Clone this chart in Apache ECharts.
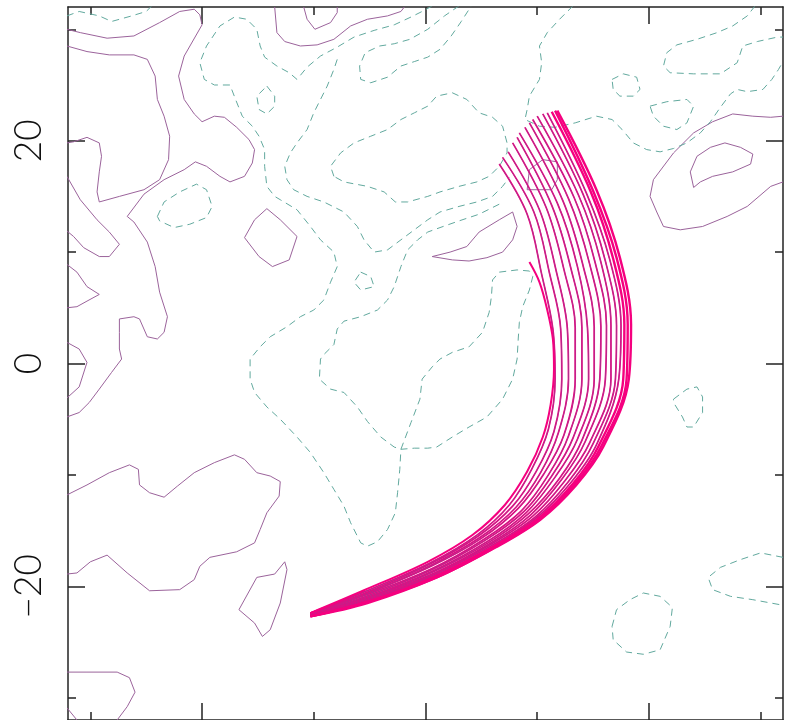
<!DOCTYPE html>
<html><head><meta charset="utf-8">
<script src="https://cdn.jsdelivr.net/npm/echarts@6/dist/echarts.min.js"></script>
<style>html,body{margin:0;padding:0;background:#fff}#c{width:793px;height:720px}</style>
</head><body><div id="c"></div><script>
// ---- axis range and ticks ----
const axisRange = [-32, 32];
const majorTicks = [-20, 0, 20];
const minorTicks = [-30, -10, 10, 30];
const yTickLabels = [-20, 0, 20];

// ---- solid (positive) contours ----
const solidA = [[-32.1,30.0],[-30.9,29.7],[-28.5,29.2],[-26.1,29.4],[-23.8,30.6],[-22.0,31.6],[-20.7,31.8],[-20.2,31.3],[-20.0,30.4],[-21.6,27.6],[-22.1,25.8],[-21.6,23.7],[-20.7,22.4],[-20.0,21.7],[-18.9,22.2],[-18.0,22.1],[-16.9,21.2],[-15.8,20.1],[-15.3,19.2],[-15.5,18.0],[-16.2,16.8],[-17.5,16.3],[-18.4,16.8],[-19.6,17.7],[-20.6,18.1],[-21.6,17.4],[-23.4,16.5],[-25.2,15.2],[-26.7,13.2],[-26.1,12.7],[-24.9,10.9],[-24.2,8.7],[-23.8,6.4],[-23.1,4.2],[-23.4,2.8],[-24.0,2.2],[-24.9,2.4],[-25.6,4.0],[-26.1,4.2],[-27.4,4.0],[-27.4,2.8],[-27.4,1.3],[-27.2,0.4],[-28.1,-0.8],[-29.2,-2.3],[-30.1,-3.5],[-31.0,-4.4],[-32.1,-4.8]];
const solidB = [[-32.1,28.5],[-30.3,28.0],[-28.3,27.7],[-26.1,27.7],[-24.9,27.3],[-24.2,25.8],[-24.0,23.7],[-23.4,22.2],[-22.9,20.4],[-23.0,18.3],[-23.8,16.5],[-25.2,15.6],[-27.4,15.0],[-29.2,14.5],[-29.4,15.4],[-29.2,17.2],[-29.0,18.6],[-29.2,19.8],[-30.3,20.3],[-31.5,19.9],[-32.1,19.8]];
const solidC = [[-32.1,16.8],[-30.9,14.7],[-29.4,12.9],[-28.3,11.8],[-27.4,10.7],[-28.3,9.6],[-29.2,9.6],[-30.6,10.4],[-31.5,11.4],[-32.1,11.9]];
const solidD = [[-32.1,8.9],[-31.2,8.2],[-30.3,6.9],[-29.2,6.2],[-30.3,5.6],[-31.2,5.1],[-32.1,5.0]];
const solidE = [[-32.1,1.9],[-31.0,1.3],[-30.3,0.1],[-31.0,-2.1],[-32.1,-3.1]];
const solidF = [[-14.2,13.9],[-13.0,12.9],[-11.5,11.4],[-12.2,9.3],[-13.7,8.7],[-14.9,9.6],[-16.2,11.3],[-15.3,12.9],[-14.2,13.9]];
const solidG = [[-13.5,32.0],[-13.3,29.7],[-12.6,28.9],[-11.2,28.5],[-9.7,28.6],[-8.2,29.1],[-6.7,30.3],[-5.2,30.9],[-3.4,31.2],[-2.2,31.6],[-1.9,32.0]];
const solidG2 = [[-10.9,32.0],[-10.6,30.9],[-9.9,30.0],[-8.5,30.6],[-7.9,31.5],[-7.9,32.0]];
const solidH = [[0.6,9.6],[2.2,10.0],[3.7,10.5],[4.8,11.8],[6.6,12.9],[7.8,13.6],[8.2,12.3],[7.8,11.1],[6.9,10.0],[5.5,9.5],[3.9,9.2],[2.4,9.3],[0.6,9.6]];
const solidI = [[32.0,22.2],[30.9,22.1],[29.3,22.2],[27.5,22.4],[25.7,21.7],[24.0,20.7],[22.2,18.9],[20.4,16.5],[20.1,15.0],[20.7,13.6],[21.3,12.3],[22.8,12.0],[24.8,12.3],[27.0,13.2],[28.8,14.1],[30.9,15.9],[32.0,16.3]];
const solidJ = [[24.0,15.8],[23.7,17.2],[24.3,18.6],[25.5,19.4],[26.8,19.8],[28.2,19.4],[29.3,18.8],[29.1,17.9],[27.5,17.2],[25.7,16.8],[24.6,16.3],[24.0,15.8]];
const solidK = [[9.1,15.6],[9.3,17.4],[10.5,18.3],[11.8,18.1],[11.8,16.5],[11.3,15.6],[9.1,15.6]];
const solidM = [[-32.1,-11.8],[-30.3,-10.9],[-28.3,-9.8],[-26.5,-9.1],[-25.7,-9.5],[-25.6,-10.9],[-24.7,-11.6],[-23.4,-12.0],[-22.2,-11.0],[-20.7,-9.8],[-18.9,-8.9],[-17.1,-8.2],[-16.2,-8.6],[-15.1,-9.8],[-13.9,-10.1],[-13.0,-10.6],[-13.1,-11.9],[-14.2,-13.4],[-14.8,-14.9],[-15.3,-16.1],[-16.9,-16.9],[-19.3,-17.4],[-20.2,-18.2],[-20.7,-19.4],[-22.0,-20.3],[-24.7,-20.4],[-26.7,-18.8],[-28.5,-17.2],[-30.0,-17.8],[-31.2,-18.8],[-32.1,-18.9]];
const solidN = [[-16.7,-22.1],[-15.1,-19.2],[-13.5,-18.9],[-12.6,-17.8],[-12.4,-18.5],[-13.0,-21.5],[-13.9,-23.9],[-14.6,-24.5],[-15.3,-23.3],[-16.7,-22.1]];
const solidO = [[-32.1,-27.7],[-30.3,-27.7],[-27.6,-27.7],[-26.5,-28.2],[-26.0,-29.5],[-26.7,-30.8],[-27.6,-32.0]];
const solidO2 = [[-32.1,-30.9],[-31.2,-32.0]];

// ---- dashed (negative) contours ----
const dashA = [[-32.1,31.2],[-31.0,31.6],[-29.2,31.2],[-28.1,30.7],[-26.3,31.2],[-25.0,31.6],[-24.5,32.1]];
const dashLong = [[0.6,32.1],[-0.1,31.7],[-1.3,31.1],[-2.8,30.4],[-4.6,29.9],[-6.4,29.3],[-7.9,28.4],[-9.4,27.6],[-10.6,26.6],[-11.5,25.5],[-12.2,26.1],[-13.3,26.7],[-14.4,27.5],[-14.8,28.5],[-15.1,30.0],[-16.0,30.9],[-17.1,31.1],[-18.4,30.3],[-19.6,28.5],[-20.2,27.0],[-19.8,25.5],[-18.9,25.0],[-17.5,25.0],[-17.0,23.7],[-16.4,22.2],[-15.5,21.3],[-14.9,20.4],[-14.4,19.2],[-14.4,17.7],[-14.2,15.9],[-13.5,15.0],[-13.0,14.7],[-11.5,13.8],[-10.3,12.3],[-9.4,11.1],[-8.2,10.0],[-7.9,8.7],[-8.5,7.3],[-9.1,5.7],[-10.0,4.8],[-11.2,4.2],[-12.4,3.3],[-13.9,2.4],[-14.8,1.5],[-15.7,0.4],[-15.7,-1.4],[-15.3,-2.6],[-14.2,-3.9],[-13.0,-5.0],[-11.5,-6.6],[-10.3,-8.0],[-9.1,-9.8],[-8.2,-11.3],[-7.3,-12.8],[-6.7,-14.3],[-5.8,-16.1],[-5.2,-16.4],[-4.3,-16.0],[-3.4,-14.9],[-2.7,-13.4],[-2.5,-11.6],[-2.3,-9.5],[-2.2,-7.7]];
const dashLoopJ = [[-2.2,-7.7],[-1.3,-5.3],[-0.5,-3.2],[-0.3,-1.4],[0.6,-0.3],[1.3,0.4],[2.4,1.0],[3.9,1.5],[5.1,2.8],[5.7,4.6],[5.9,6.0],[6.0,7.5],[6.6,8.2],[8.2,8.4],[9.3,8.3],[9.6,7.8],[9.3,6.6],[8.7,5.1],[8.4,3.7],[8.3,2.2],[8.2,0.4],[7.8,-1.4],[6.9,-3.2],[5.5,-4.8],[3.9,-5.7],[2.4,-6.6],[1.0,-7.5],[0.2,-7.6],[-1.0,-7.6],[-2.2,-7.7]];
const dashF = [[6.6,14.3],[4.8,13.4],[3.0,12.8],[1.3,12.2],[0.2,11.8],[-0.7,11.1],[-1.6,10.2],[-2.2,8.7],[-2.8,6.9],[-3.4,5.7],[-4.3,4.8],[-5.8,4.2],[-7.3,3.8],[-7.9,3.1],[-8.2,1.7],[-9.1,0.8],[-9.4,0.4],[-9.5,-1.4],[-8.5,-2.3],[-7.3,-2.6],[-6.1,-3.9],[-5.2,-5.2],[-4.0,-6.6],[-2.8,-7.5],[-2.2,-7.7]];
const dashC = [[-7.9,27.3],[-8.2,26.4],[-8.8,24.9],[-9.4,23.7],[-10.0,22.5],[-10.6,21.0],[-11.5,19.8],[-12.1,18.9],[-12.6,17.7],[-12.4,16.5],[-11.8,15.6],[-10.6,15.0],[-9.1,14.5],[-7.3,13.6],[-6.1,12.3],[-5.5,11.1],[-4.6,10.0],[-3.4,10.2],[-2.2,11.1],[-1.0,12.0],[0.2,12.9],[1.3,13.6],[3.0,14.1],[4.6,14.5],[6.0,15.0],[6.9,15.9],[7.5,16.7]];
const dashD = [[3.0,32.1],[1.7,31.2],[0.2,30.0],[-1.4,29.1],[-2.8,28.7],[-4.1,28.5],[-5.4,27.9],[-5.9,26.7],[-5.8,25.5],[-4.9,25.2],[-3.4,25.7],[-2.2,26.7],[-1.0,27.1],[0.2,27.5],[1.3,28.2],[2.3,29.4],[3.2,30.7],[4.1,32.1]];
const dashE = [[-8.2,16.8],[-8.5,17.7],[-7.6,18.9],[-6.4,19.8],[-4.9,20.4],[-3.4,21.0],[-2.2,21.9],[-1.0,22.5],[0.2,23.1],[1.0,24.0],[2.4,24.3],[3.7,23.7],[4.8,22.5],[6.0,22.1],[6.9,21.3],[7.3,19.8],[7.3,18.9],[6.6,17.7],[5.7,16.8],[4.6,16.3],[3.0,15.9],[1.3,15.4],[0.2,15.0],[-1.6,14.5],[-2.7,14.5],[-3.7,15.4],[-5.2,15.9],[-7.3,16.3],[-8.2,16.8]];
const dashVQ = [[13.2,32.1],[12.0,30.9],[10.9,29.7],[10.2,28.5],[10.4,27.0],[10.2,25.5],[9.3,24.0],[9.1,22.8],[8.9,21.9],[10.2,21.3],[11.6,21.2],[13.4,21.6],[15.3,22.2],[16.7,21.9],[17.6,21.0],[18.6,19.8],[19.8,19.2],[21.0,19.0],[22.2,19.3],[23.4,19.8],[24.6,20.7],[25.5,21.7],[26.4,23.0],[27.3,24.2],[27.9,24.6],[28.8,24.4],[30.2,24.6],[31.0,25.5],[31.6,26.4],[32.0,27.1]];
const dashP = [[29.5,32.1],[28.8,31.2],[27.5,30.3],[26.1,29.7],[24.3,29.1],[22.5,28.6],[21.6,27.9],[21.3,26.7],[21.9,26.1],[24.0,26.0],[26.4,26.0],[27.9,27.0],[28.4,28.5],[29.7,28.9],[31.5,29.3],[32.0,29.3]];
const dashL1 = [[-14.2,24.9],[-13.5,24.0],[-13.5,23.1],[-14.2,22.4],[-14.9,22.8],[-15.1,24.0],[-14.2,24.9]];
const dashL2 = [[-24.0,13.2],[-23.4,14.5],[-22.0,15.4],[-20.5,16.1],[-19.6,15.6],[-19.1,14.1],[-19.6,13.1],[-21.1,12.5],[-22.5,12.2],[-23.8,12.8],[-24.0,13.2]];
const dashL3 = [[-5.8,8.2],[-4.9,7.8],[-4.6,6.9],[-5.8,6.6],[-6.4,7.3],[-5.8,8.2]];
const dashL4 = [[16.7,25.5],[17.7,26.0],[18.9,25.7],[19.2,24.6],[18.6,24.0],[17.4,24.0],[16.8,24.6],[16.7,25.5]];
const dashL5 = [[20.1,23.1],[21.6,23.5],[23.4,23.7],[24.0,23.1],[23.4,21.6],[22.5,21.0],[21.3,21.3],[20.4,22.2],[20.1,23.1]];
const dashL6 = [[22.2,-3.2],[23.4,-2.3],[24.3,-2.1],[24.8,-3.0],[24.8,-4.4],[24.0,-5.7],[23.4,-5.7],[23.0,-4.8],[22.2,-3.5],[22.2,-3.2]];
const dashL7 = [[16.7,-23.6],[17.1,-22.1],[18.3,-21.2],[19.5,-20.6],[21.0,-20.9],[22.1,-21.9],[21.9,-23.6],[21.0,-25.7],[19.5,-26.1],[18.0,-25.9],[16.8,-24.8],[16.7,-23.6]];
const dashR2 = [[32.0,-17.4],[30.0,-17.0],[28.2,-17.6],[26.4,-18.3],[25.3,-19.2],[25.7,-20.3],[27.3,-20.9],[29.3,-21.2],[32.0,-21.7]];

// ---- fan of curves (magenta), listed from the inner to the outer curve ----
const fanShort = [[9.3,9.1],[10.2,7.3],[10.9,4.8],[11.4,2.2],[11.5,-0.5],[11.2,-3.7],[10.5,-6.6],[9.1,-9.7],[7.1,-12.7],[4.2,-15.4],[0.2,-17.8],[-5.6,-20.4],[-10.3,-22.4]];
const fan0 = [[6.6,17.9],[9.1,13.4],[10.4,8.0],[11.4,3.1],[11.6,-1.4],[11.0,-5.9],[9.5,-9.5],[7.5,-12.7],[4.6,-15.4],[0.4,-17.9],[-5.5,-20.5],[-10.3,-22.4]];
const fan1 = [[6.9,18.5],[9.7,13.6],[11.1,8.1],[12.1,3.1],[12.2,-1.4],[11.5,-6.1],[9.9,-9.7],[7.8,-12.8],[4.7,-15.5],[0.4,-18.0],[-5.4,-20.6],[-10.3,-22.4]];
const fan2 = [[7.4,19.0],[10.2,13.8],[11.7,8.3],[12.7,3.1],[12.8,-1.4],[11.9,-6.2],[10.3,-9.8],[8.1,-12.9],[4.9,-15.6],[0.5,-18.1],[-5.4,-20.7],[-10.3,-22.4]];
const fan3 = [[7.8,19.8],[10.8,14.0],[12.4,8.4],[13.4,3.2],[13.4,-1.4],[12.4,-6.4],[10.6,-9.9],[8.3,-13.0],[5.0,-15.7],[0.5,-18.2],[-5.4,-20.7],[-10.3,-22.5]];
const fan4 = [[8.2,20.3],[11.3,14.2],[13.0,8.6],[14.0,3.2],[14.0,-1.4],[12.8,-6.5],[11.0,-10.0],[8.6,-13.2],[5.2,-15.8],[0.6,-18.4],[-5.4,-20.8],[-10.3,-22.5]];
const fan5 = [[8.4,20.7],[11.8,14.4],[13.6,8.7],[14.5,3.2],[14.6,-1.4],[13.2,-6.7],[11.3,-10.1],[8.8,-13.3],[5.3,-15.9],[0.6,-18.5],[-5.3,-20.9],[-10.3,-22.5]];
const fan6 = [[8.9,21.2],[12.3,14.6],[14.1,8.8],[15.1,3.3],[15.1,-1.4],[13.6,-6.8],[11.6,-10.2],[9.0,-13.4],[5.5,-16.0],[0.7,-18.6],[-5.3,-21.0],[-10.3,-22.5]];
const fan7 = [[9.3,21.6],[12.8,14.8],[14.7,8.9],[15.7,3.3],[15.6,-1.4],[14.0,-6.9],[12.0,-10.3],[9.2,-13.5],[5.6,-16.1],[0.7,-18.7],[-5.3,-21.1],[-10.3,-22.6]];
const fan8 = [[9.6,21.9],[13.3,14.9],[15.2,9.0],[16.2,3.4],[16.1,-1.4],[14.3,-7.0],[12.2,-10.4],[9.4,-13.6],[5.7,-16.2],[0.8,-18.8],[-5.3,-21.1],[-10.3,-22.6]];
const fan9 = [[10.0,22.2],[13.7,15.1],[15.7,9.1],[16.6,3.4],[16.6,-1.4],[14.7,-7.1],[12.5,-10.5],[9.6,-13.7],[5.9,-16.2],[0.8,-18.9],[-5.3,-21.2],[-10.3,-22.6]];
const fan10 = [[10.5,22.4],[14.1,15.2],[16.1,9.2],[17.1,3.4],[17.0,-1.4],[15.0,-7.2],[12.8,-10.6],[9.8,-13.8],[6.0,-16.3],[0.9,-18.9],[-5.3,-21.3],[-10.3,-22.6]];
const fan11 = [[10.9,22.5],[14.4,15.3],[16.5,9.3],[17.5,3.4],[17.3,-1.4],[15.3,-7.3],[13.0,-10.7],[10.0,-13.8],[6.1,-16.4],[0.9,-19.0],[-5.2,-21.3],[-10.3,-22.7]];
const fan12 = [[11.3,22.6],[14.8,15.4],[16.8,9.4],[17.8,3.5],[17.7,-1.4],[15.5,-7.4],[13.2,-10.8],[10.1,-13.9],[6.1,-16.4],[0.9,-19.1],[-5.2,-21.4],[-10.3,-22.7]];
const fan13 = [[11.6,22.7],[15.0,15.5],[17.1,9.5],[18.1,3.5],[18.0,-1.4],[15.7,-7.5],[13.4,-10.8],[10.2,-14.0],[6.2,-16.5],[1.0,-19.2],[-5.2,-21.4],[-10.3,-22.7]];
const fan14 = [[11.8,22.7],[15.3,15.6],[17.4,9.5],[18.4,3.5],[18.2,-1.4],[15.9,-7.5],[13.5,-10.9],[10.3,-14.0],[6.3,-16.5],[1.0,-19.2],[-5.2,-21.5],[-10.3,-22.7]];

const solidContours = [solidA, solidB, solidC, solidD, solidE, solidF, solidG, solidG2, solidH, solidI, solidJ, solidK, solidM, solidN, solidO, solidO2];
const dashedContours = [dashA, dashLong, dashLoopJ, dashF, dashC, dashD, dashE, dashVQ, dashP, dashL1, dashL2, dashL3, dashL4, dashL5, dashL6, dashL7, dashR2];
const fanCurves = [fan0, fan1, fan2, fan3, fan4, fan5, fan6, fan7, fan8, fan9, fan10, fan11, fan12, fan13, fan14];

// ---- styling ----
const SOLID_COLOR = '#9b639b';
const DASH_COLOR = '#62a99e';
const FAN_COLOR = '#f5007f';
const FAN_CORE = '#a0398f';
const frameStyle = { color: '#222', width: 1.5 };

function mkAxis(pos, ticks, len, showLine, labels) {
  const a = {
    type: 'value', position: pos, min: axisRange[0], max: axisRange[1],
    axisLine: { show: showLine, onZero: false, lineStyle: frameStyle },
    axisTick: { show: true, inside: true, length: len, customValues: ticks, lineStyle: frameStyle },
    axisLabel: { show: false },
    splitLine: { show: false }, minorTick: { show: false }
  };
  if (labels) {
    a.axisLabel = {
      show: true, customValues: labels, rotate: 90, margin: 20,
      fontSize: 37, color: '#111', fontFamily: 'Lato, "DejaVu Sans", sans-serif', fontWeight: 300,
      formatter: v => (v < 0 ? '\u2212' + Math.abs(v) : String(v))
    };
  }
  return a;
}

const series = [];
solidContours.forEach(d => series.push({
  type: 'line', data: d, showSymbol: false, silent: true, clip: true,
  lineStyle: { color: SOLID_COLOR, width: 1 }
}));
dashedContours.forEach(d => series.push({
  type: 'line', data: d, showSymbol: false, silent: true, clip: true,
  lineStyle: { color: DASH_COLOR, width: 1, type: [7, 5] }
}));
fanCurves.forEach((d, i) => {
  series.push({
    type: 'line', data: d, showSymbol: false, silent: true, clip: true, smooth: 0.35,
    lineStyle: { color: FAN_COLOR, width: i >= 12 ? 2.4 : 1.7 }
  });
  if (i < 12) series.push({
    type: 'line', data: d, showSymbol: false, silent: true, clip: true, smooth: 0.35,
    lineStyle: { color: FAN_CORE, width: 0.8 }
  });
});
series.push({
  type: 'line', data: fanShort, showSymbol: false, silent: true, clip: true, smooth: 0.35,
  lineStyle: { color: FAN_COLOR, width: 2 }
});

const chart = echarts.init(document.getElementById('c'), null, { renderer: 'canvas' });
chart.setOption({
  animation: false,
  backgroundColor: '#fff',
  grid: { left: 68, top: 7, width: 715, height: 714, containLabel: false },
  xAxis: [
    mkAxis('bottom', majorTicks, 17, true),
    mkAxis('bottom', minorTicks, 8, false),
    mkAxis('top', majorTicks, 17, true),
    mkAxis('top', minorTicks, 8, false)
  ],
  yAxis: [
    mkAxis('left', majorTicks, 17, true, yTickLabels),
    mkAxis('left', minorTicks, 8, false),
    mkAxis('right', majorTicks, 17, true),
    mkAxis('right', minorTicks, 8, false)
  ],
  series: series
});
</script></body></html>
